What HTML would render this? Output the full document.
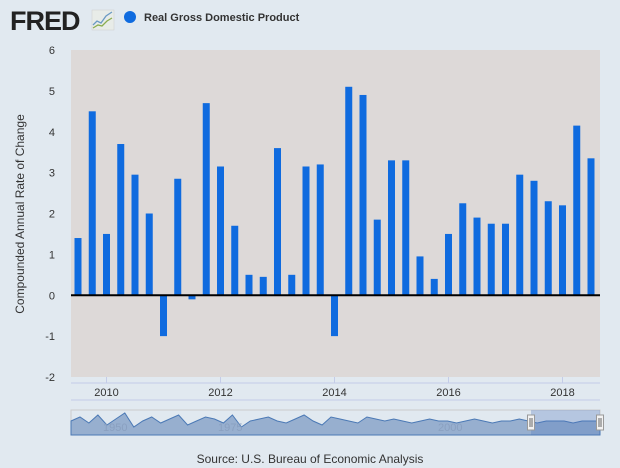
<!DOCTYPE html>
<html><head><meta charset="utf-8"><style>
body{margin:0;background:#e1e9f0;font-family:"Liberation Sans",sans-serif}
svg{display:block}
</style></head><body>
<svg id="c" width="620" height="468">
<rect width="620" height="468" fill="#e1e9f0"/>
<g>
<text x="10" y="30" font-size="27" font-weight="bold" fill="#222" letter-spacing="-1" font-family="Liberation Sans,sans-serif">FRED</text>
<rect x="92" y="10" width="22" height="20" fill="#e8ece8" stroke="#ccc" stroke-width="0.5"/>
<polyline points="93,25 97,21 101,23 106,16 112,12" fill="none" stroke="#6b9ac4" stroke-width="1.3"/>
<polyline points="93,28 98,25 102,26 107,21 112,18" fill="none" stroke="#8aad4f" stroke-width="1.3"/>
</g>
<g>
<circle cx="130" cy="17" r="6" fill="#0f6bdf"/>
<text x="144" y="21" font-size="11" font-weight="bold" fill="#333">Real Gross Domestic Product</text>
</g>
<rect x="71" y="50" width="529" height="327" fill="#ddd9d8"/>
<g id="grid"></g>
<g id="bars"></g>
<g id="axes"></g>
<text transform="translate(24,214) rotate(-90)" text-anchor="middle" font-size="12" fill="#333">Compounded Annual Rate of Change</text>
<line x1="71" y1="383" x2="600" y2="383" stroke="#c4cce8"/>
<line x1="71" y1="400" x2="600" y2="400" stroke="#c4cce8"/>
<g id="nav"></g>
<text x="310" y="463" text-anchor="middle" font-size="12" fill="#333">Source: U.S. Bureau of Economic Analysis</text>
</svg>
<script>
const quarters=["2009Q3","2009Q4","2010Q1","2010Q2","2010Q3","2010Q4","2011Q1","2011Q2","2011Q3","2011Q4","2012Q1","2012Q2","2012Q3","2012Q4","2013Q1","2013Q2","2013Q3","2013Q4","2014Q1","2014Q2","2014Q3","2014Q4","2015Q1","2015Q2","2015Q3","2015Q4","2016Q1","2016Q2","2016Q3","2016Q4","2017Q1","2017Q2","2017Q3","2017Q4","2018Q1","2018Q2","2018Q3"];
const values=[1.4,4.5,1.5,3.7,2.95,2.0,-1.0,2.85,-0.1,4.7,3.15,1.7,0.5,0.45,3.6,0.5,3.15,3.2,-1.0,5.1,4.9,1.85,3.3,3.3,0.95,0.4,1.5,2.25,1.9,1.75,1.75,2.95,2.8,2.3,2.2,4.15,3.35];
const yTicks=[-2,-1,0,1,2,3,4,5,6];
const xLabels=["2010","2012","2014","2016","2018"];
const xLabelIdx=[2,10,18,26,34];
const navValues=[3,5,2,6,1,4,7,0,3,5,2,4,6,1,3,5,4,2,6,0,3,4,5,3,2,4,6,3,1,5,4,3,2,5,4,3,4,3,2,3,4,3,3,2,3,4,3,2,3,3,4,3,2,3,3,3,2,3,3,3];
const NS="http://www.w3.org/2000/svg";
const X0=71,X1=600,Y0=50,Y1=377,step=14.25;
const y=v=>Y1-(v+2)*(Y1-Y0)/8;
const x=i=>X0+7+i*step;
function mk(t,a,p){const e=document.createElementNS(NS,t);for(const k in a)e.setAttribute(k,a[k]);p.appendChild(e);return e;}
const ax=document.getElementById('axes'),bg=document.getElementById('bars');
yTicks.forEach(v=>{
 const t=mk('text',{x:55,y:y(v)+4,'text-anchor':'end','font-size':11,fill:'#333'},ax);
 
 
 t.textContent=v;
});
values.forEach((v,i)=>{
 const r=mk('rect',{x:x(i)-3.5,y:Math.min(y(v),y(0)),width:7,height:Math.abs(y(v)-y(0)),fill:'#0f6bdf'},bg);
 
 
});
const z=mk('line',{x1:X0,x2:X1,y1:y(0),y2:y(0),stroke:'#000','stroke-width':2},ax);


xLabels.forEach((l,k)=>{
 const px=x(xLabelIdx[k]);
 const tk=mk('line',{x1:px,x2:px,y1:377,y2:383,stroke:'#c4cce8'},ax);
 
 
 const t=mk('text',{x:px,y:396,'text-anchor':'middle','font-size':11,fill:'#333'},ax);
 
 
 t.textContent=l;
});
const nav=document.getElementById('nav');
const NX0=71,NX1=600,NT=410,NB=435;
const nx=i=>NX0+i*(NX1-NX0)/(navValues.length-1);
const ny=v=>NB-8-v*2;
let d='M'+NX0+','+NB;navValues.forEach((v,i)=>d+=' L'+nx(i).toFixed(1)+','+ny(v));d+=' L'+NX1+','+NB+' Z';
mk('rect',{x:NX0,y:NT,width:NX1-NX0,height:NB-NT,fill:'#e1e9f0',stroke:'#ccc'},nav);
mk('path',{d:d,fill:'#97afcf',stroke:'#4b79b5','stroke-width':1},nav);
[["1950",103],["1975",218],["2000",438]].forEach(([l,px])=>{const t=mk('text',{x:px,y:431,'font-size':11,fill:'#8aa0c0'},nav);t.textContent=l;});
mk('rect',{x:531,y:NT,width:69,height:NB-NT,fill:'rgba(80,120,190,0.3)'},nav);
[531,600].forEach(px=>{const h=mk('rect',{x:px-3.5,y:415,width:7,height:15,fill:'#f2f2f2',stroke:'#999'},nav);
mk('line',{x1:px-1,x2:px-1,y1:418,y2:427,stroke:'#666'},nav);mk('line',{x1:px+1,x2:px+1,y1:418,y2:427,stroke:'#666'},nav);});
</script>
</body></html>
